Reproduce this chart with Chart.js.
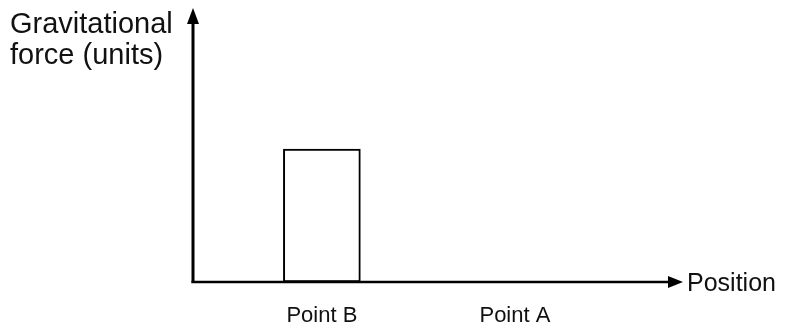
<!DOCTYPE html>
<html>
<head>
<meta charset="utf-8">
<script src="https://cdn.jsdelivr.net/npm/chart.js@4"></script>
<style>
    html, body { margin: 0; background: #fff; }
    #wrap { width: 799px; height: 336px; }
</style>
</head>
<body>
<div id="wrap"><canvas id="forceChart"></canvas></div>
<script>
// Force at each position along the track
const positionLabels = ['Point B', 'Point A'];
const positionValues = [2.63, 6.57];
const forceValues = [4.85, 0];
const xRange = [0, 10];
const yRange = [0, 10];
const yTitleLines = ['Gravitational', 'force (units)'];
const xTitle = 'Position';

const FONT = '"Liberation Sans", Arial, Helvetica, sans-serif';
const INK = '#000';

// Axes are drawn by hand so both can end in arrowheads
const arrowAxes = {
    id: 'arrowAxes',
    afterDraw(chart) {
        const { ctx, chartArea: a } = chart;
        ctx.save();
        ctx.strokeStyle = INK;
        ctx.fillStyle = INK;

        // y axis
        ctx.lineWidth = 3;
        ctx.beginPath();
        ctx.moveTo(a.left, a.bottom + 1);
        ctx.lineTo(a.left, a.top + 10);
        ctx.stroke();
        ctx.beginPath();
        ctx.moveTo(a.left, a.top);
        ctx.lineTo(a.left - 6, a.top + 16);
        ctx.lineTo(a.left + 6, a.top + 16);
        ctx.closePath();
        ctx.fill();

        // x axis
        ctx.lineWidth = 2.5;
        ctx.beginPath();
        ctx.moveTo(a.left - 1.5, a.bottom);
        ctx.lineTo(a.right - 10, a.bottom);
        ctx.stroke();
        ctx.beginPath();
        ctx.moveTo(a.right, a.bottom);
        ctx.lineTo(a.right - 15, a.bottom - 6);
        ctx.lineTo(a.right - 15, a.bottom + 6);
        ctx.closePath();
        ctx.fill();

        // axis titles
        ctx.fillStyle = '#111';
        ctx.textAlign = 'left';
        ctx.textBaseline = 'alphabetic';
        ctx.font = '29px ' + FONT;
        yTitleLines.forEach((line, i) => {
            ctx.fillText(line, 10, 33 + i * 31);
        });
        ctx.font = '25px ' + FONT;
        ctx.textBaseline = 'middle';
        ctx.fillText(xTitle, a.right + 4, a.bottom + 2);
        ctx.restore();
    }
};

new Chart(document.getElementById('forceChart'), {
    type: 'bar',
    data: {
        datasets: [{
            data: positionValues.map((x, i) => ({ x: x, y: forceValues[i] })),
            backgroundColor: '#fff',
            borderColor: INK,
            borderWidth: 2,
            borderSkipped: false,
            barThickness: 77
        }]
    },
    options: {
        responsive: true,
        maintainAspectRatio: false,
        animation: false,
        events: [],
        layout: {
            padding: { left: 193, right: 116, top: 8, bottom: 4 }
        },
        plugins: {
            legend: { display: false },
            tooltip: { enabled: false }
        },
        scales: {
            x: {
                type: 'linear',
                offset: false,
                min: xRange[0],
                max: xRange[1],
                grid: { display: false, drawTicks: false },
                border: { display: false },
                afterBuildTicks: scale => {
                    scale.ticks = positionValues.map(v => ({ value: v }));
                },
                afterFit: scale => { scale.height = 50; },
                ticks: {
                    color: '#111',
                    padding: 21,
                    maxRotation: 0,
                    font: { family: FONT, size: 22 },
                    callback: (value, index) => positionLabels[index]
                }
            },
            y: {
                display: false,
                min: yRange[0],
                max: yRange[1]
            }
        }
    },
    plugins: [arrowAxes]
});
</script>
</body>
</html>
